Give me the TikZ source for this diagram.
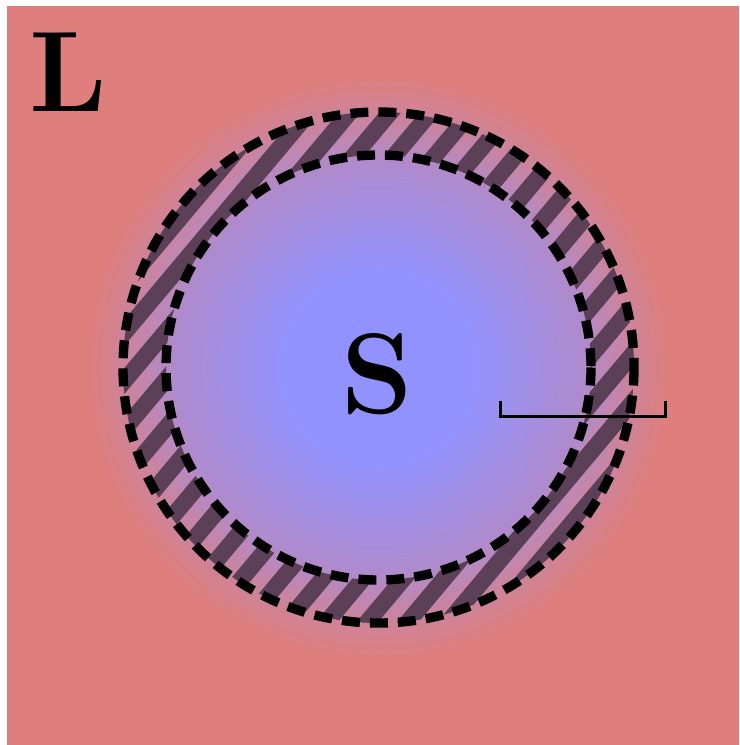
\documentclass[tikz,border=0pt]{standalone}
\usepackage{fontspec}
\usetikzlibrary{calc}
\definecolor{sred}{RGB}{222,127,126}
\definecolor{sblue}{RGB}{146,146,255}
\definecolor{shatch}{RGB}{92,64,88}
\colorlet{smidA}{sred!38!sblue}
\colorlet{smidB}{sred!80!sblue}
\pgfdeclareradialshading{sglow}{\pgfpoint{0bp}{0bp}}{color(0bp)=(sblue); color(70bp)=(sblue); color(152bp)=(smidA); color(192bp)=(smidB); color(217bp)=(sred)}
\tikzset{
  dashring/.style={draw=black, line width=7pt, dash pattern=on 13.5pt off 7.5pt},
  hatchline/.style={draw=shatch, line width=12.5pt},
  biglabel/.style={inner sep=0pt, font=\fontsize{86}{86}\selectfont\bfseries},
  bracketline/.style={draw=black, line width=2.25pt}
}
\begin{document}
\begin{tikzpicture}[x=0.75pt, y=-0.75pt]
\useasboundingbox (0,0) rectangle (739,745);
\fill[white] (0,0) rectangle (739,745);
\fill[sred] (7,6) rectangle (739,745);
\coordinate (c) at (378.5,367.5);
\begin{scope}
  \clip (7,6) rectangle (739,745);
  \node[inner sep=0pt, outer sep=0pt] (glow) at (c) {\pgfuseshading{sglow}};
\end{scope}
\begin{scope}[even odd rule]
  \clip (c) circle[radius=255.5] (c) circle[radius=212.5];
  \foreach \k in {-14,...,14} {
    \draw[hatchline] ($(c)+({\k*31*0.766+400*0.643},{\k*31*0.643-400*0.766})$) -- ($(c)+({\k*31*0.766-400*0.643},{\k*31*0.643+400*0.766})$);
  }
\end{scope}
\draw[dashring] (c) circle[radius=255.5];
\draw[dashring] (c) circle[radius=212.5];
\node[biglabel] (L) at (68,72) {L};
\node[biglabel] (S) at (377,374) {S};
\coordinate (b1) at (500,401);
\coordinate (b2) at (500,416);
\coordinate (b3) at (665,416);
\coordinate (b4) at (665,401);
\draw[bracketline] (b1) -- (b2) -- (b3) -- (b4);
\end{tikzpicture}
\end{document}
